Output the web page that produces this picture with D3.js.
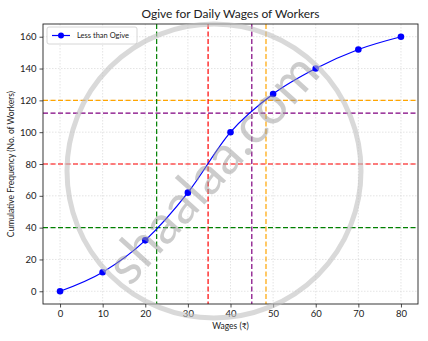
<!DOCTYPE html>
<html>
<head>
<meta charset="utf-8">
<script src="https://cdn.jsdelivr.net/npm/d3@7"></script>
<style>
  body { margin: 0; background: #fff; }
  svg { font-family: "Lato", "DejaVu Sans", sans-serif; }
</style>
</head>
<body>
<div id="chart"></div>
<script>
// data
var wages = [0, 10, 20, 30, 40, 50, 60, 70, 80];
var cumFreq = [0, 12, 32, 62, 100, 124, 140, 152, 160];
var xTicks = [0, 10, 20, 30, 40, 50, 60, 70, 80];
var yTicks = [0, 20, 40, 60, 80, 100, 120, 140, 160];
// reference lines: [y value, colour]
var hLevels = [40, 80, 112, 120];
var hColors = ["green", "red", "purple", "orange"];
var vLevels = [22.67, 34.74, 45, 48.33];
var vColors = ["green", "red", "purple", "orange"];

var svgWidth = 428, svgHeight = 341;
var margin = { top: 24, right: 10, bottom: 37, left: 43 };
var width = svgWidth - margin.left - margin.right;
var height = svgHeight - margin.top - margin.bottom;

var svg = d3.select("#chart").append("svg")
  .attr("width", svgWidth)
  .attr("height", svgHeight);

var chartGroup = svg.append("g")
  .attr("transform", `translate(${margin.left}, ${margin.top})`);

var x = d3.scaleLinear().domain([-4, 84]).range([0, width]);
var y = d3.scaleLinear().domain([-8, 168]).range([height, 0]);

// grid
chartGroup.append("g").selectAll("line.gx")
  .data(xTicks).enter().append("line")
  .attr("x1", d => x(d)).attr("x2", d => x(d))
  .attr("y1", 0).attr("y2", height)
  .attr("stroke", "#d8d8d8").attr("stroke-width", 0.7)
  .attr("stroke-dasharray", "1.5,1.5");
chartGroup.append("g").selectAll("line.gy")
  .data(yTicks).enter().append("line")
  .attr("x1", 0).attr("x2", width)
  .attr("y1", d => y(d)).attr("y2", d => y(d))
  .attr("stroke", "#d8d8d8").attr("stroke-width", 0.7)
  .attr("stroke-dasharray", "1.5,1.5");

// reference lines
chartGroup.append("g").selectAll("line")
  .data(hLevels).enter().append("line")
  .attr("x1", 0).attr("x2", width)
  .attr("y1", d => y(d)).attr("y2", d => y(d))
  .attr("stroke", (d, i) => hColors[i]).attr("stroke-width", 1.2)
  .attr("stroke-dasharray", "5,2.5");
chartGroup.append("g").selectAll("line")
  .data(vLevels).enter().append("line")
  .attr("x1", d => x(d)).attr("x2", d => x(d))
  .attr("y1", 0).attr("y2", height)
  .attr("stroke", (d, i) => vColors[i]).attr("stroke-width", 1.2)
  .attr("stroke-dasharray", "5,2.5");

// ogive
var pts = wages.map((w, i) => [w, cumFreq[i]]);
var line = d3.line()
  .x(d => x(d[0])).y(d => y(d[1]))
  .curve(d3.curveMonotoneX);
chartGroup.append("path")
  .datum(pts)
  .attr("d", line)
  .attr("fill", "none")
  .attr("stroke", "blue")
  .attr("stroke-width", 1.2);
chartGroup.selectAll("circle.pt")
  .data(pts).enter().append("circle")
  .attr("cx", d => x(d[0])).attr("cy", d => y(d[1]))
  .attr("r", 3.3).attr("fill", "blue");

// axes
var bottomAxis = d3.axisBottom(x).tickValues(xTicks).tickSize(3.5).tickPadding(3);
var leftAxis = d3.axisLeft(y).tickValues(yTicks).tickSize(3.5).tickPadding(3);
var gx = chartGroup.append("g").attr("transform", `translate(0, ${height})`).call(bottomAxis);
var gy = chartGroup.append("g").call(leftAxis);
[gx, gy].forEach(g => {
  g.select(".domain").remove();
  g.selectAll("text").attr("font-size", "9.5px").attr("fill", "#222").attr("font-family", "Lato, sans-serif");
  g.selectAll("line").attr("stroke", "#222").attr("stroke-width", 0.8);
});

chartGroup.append("rect")
  .attr("width", width).attr("height", height)
  .attr("fill", "none").attr("stroke", "#222").attr("stroke-width", 0.9);

// legend
var lg = chartGroup.append("g").attr("transform", "translate(4, 3)");
lg.append("rect").attr("width", 90).attr("height", 17).attr("rx", 2)
  .attr("fill", "white").attr("fill-opacity", 0.8)
  .attr("stroke", "#ccc").attr("stroke-width", 0.8);
lg.append("line").attr("x1", 5).attr("x2", 23).attr("y1", 8.5).attr("y2", 8.5)
  .attr("stroke", "blue").attr("stroke-width", 1.2);
lg.append("circle").attr("cx", 14).attr("cy", 8.5).attr("r", 3).attr("fill", "blue");
lg.append("text").attr("x", 30).attr("y", 11.3).attr("font-size", "7.5px")
  .attr("fill", "#222").text("Less than Ogive");

// titles
svg.append("text")
  .attr("x", margin.left + width / 2).attr("y", 18)
  .attr("text-anchor", "middle").attr("font-size", "12px").attr("fill", "#222")
  .text("Ogive for Daily Wages of Workers");
svg.append("text")
  .attr("x", margin.left + width / 2).attr("y", 329)
  .attr("text-anchor", "middle").attr("font-size", "8.5px").attr("fill", "#222")
  .text("Wages (₹)");
svg.append("text")
  .attr("transform", `translate(14, ${margin.top + height / 2}) rotate(-90)`)
  .attr("text-anchor", "middle").attr("font-size", "8.5px").attr("fill", "#222")
  .text("Cumulative Frequency (No. of Workers)");

// watermark
svg.append("circle")
  .attr("cx", 214).attr("cy", 171).attr("r", 147)
  .attr("fill", "none").attr("stroke", "#c0c0c0").attr("stroke-opacity", 0.6)
  .attr("stroke-width", 5);
svg.append("text")
  .attr("transform", "translate(212, 168) rotate(-48)")
  .attr("text-anchor", "middle").attr("dy", "0.35em")
  .attr("font-size", "54px").attr("fill", "#999").attr("fill-opacity", 0.5)
  .text("shaalaa.com");
</script>
</body>
</html>
